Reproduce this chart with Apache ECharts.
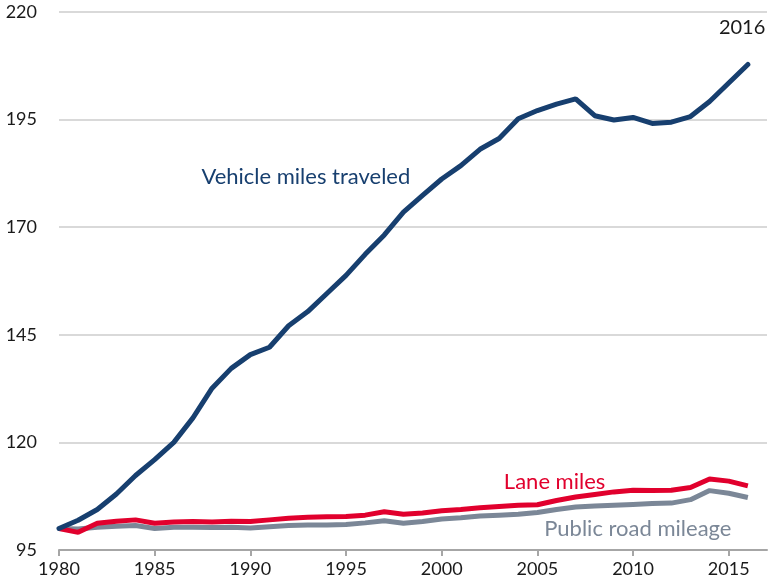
<!DOCTYPE html>
<html>
<head>
<meta charset="utf-8">
<style>
  html, body { margin: 0; padding: 0; background: #ffffff; }
  #chart { width: 770px; height: 588px; }
</style>
<script src="https://cdn.jsdelivr.net/npm/echarts@6/dist/echarts.min.js"></script>
</head>
<body>
<div id="chart"></div>
<script>
// Index values, 1980 = 100
const years = [
  1980, 1981, 1982, 1983, 1984, 1985, 1986, 1987, 1988, 1989,
  1990, 1991, 1992, 1993, 1994, 1995, 1996, 1997, 1998, 1999,
  2000, 2001, 2002, 2003, 2004, 2005, 2006, 2007, 2008, 2009,
  2010, 2011, 2012, 2013, 2014, 2015, 2016
];

const vehicleMiles = [
  100.0, 101.9, 104.4, 108.0, 112.3, 116.0, 120.0, 125.7, 132.6, 137.2,
  140.4, 142.1, 147.1, 150.4, 154.6, 158.8, 163.7, 168.2, 173.5, 177.4,
  181.2, 184.3, 188.1, 190.6, 195.2, 197.1, 198.6, 199.8, 195.9, 194.9,
  195.5, 194.1, 194.4, 195.7, 199.2, 203.5, 207.8
];

const laneMiles = [
  100.0, 99.1, 101.2, 101.7, 102.0, 101.2, 101.5, 101.6, 101.5, 101.7,
  101.6, 102.0, 102.4, 102.6, 102.7, 102.8, 103.1, 103.9, 103.3, 103.6,
  104.1, 104.4, 104.8, 105.1, 105.4, 105.5, 106.5, 107.3, 107.9, 108.5,
  108.9, 108.8, 108.9, 109.5, 111.5, 111.0, 109.9
];

const publicRoadMileage = [
  100.0, 99.9, 100.3, 100.5, 100.7, 100.0, 100.3, 100.3, 100.2, 100.3,
  100.1, 100.4, 100.7, 100.8, 100.8, 100.9, 101.3, 101.8, 101.2, 101.6,
  102.2, 102.5, 102.9, 103.1, 103.3, 103.7, 104.4, 105.0, 105.2, 105.4,
  105.6, 105.8, 105.9, 106.7, 108.8, 108.2, 107.2
];

const xTicks = [1980, 1985, 1990, 1995, 2000, 2005, 2010, 2015];
const yTicks = [95, 120, 145, 170, 195, 220];

const NAVY = '#173f6f';
const RED = '#e1002d';
const GRAY = '#7b8797';
const FONT = 'Lato';

function pairs(values) {
  return years.map((y, i) => [y, values[i]]);
}

function textMark(text, coord, color, size) {
  return {
    coord: coord,
    symbol: 'circle',
    symbolSize: 0,
    label: {
      show: true,
      position: 'inside',
      formatter: text,
      color: color,
      fontSize: size,
      fontFamily: FONT
    }
  };
}

const chart = echarts.init(document.getElementById('chart'), null, { renderer: 'canvas' });

chart.setOption({
  animation: false,
  backgroundColor: '#ffffff',
  grid: { left: 59, right: 3, top: 12, bottom: 38, containLabel: false },
  xAxis: {
    type: 'value',
    min: 1980,
    max: 2017,
    interval: 5,
    splitLine: { show: false },
    axisLine: { show: true, lineStyle: { color: '#a6a6a6', width: 2 } },
    axisTick: {
      show: true,
      length: 6,
      customValues: xTicks,
      lineStyle: { color: '#a6a6a6', width: 2 }
    },
    axisLabel: {
      customValues: xTicks,
      formatter: v => String(v),
      color: '#1a1a1a',
      fontSize: 18,
      fontFamily: FONT,
      margin: 10
    }
  },
  yAxis: {
    type: 'value',
    min: 95,
    max: 220,
    interval: 25,
    axisLine: { show: false },
    axisTick: { show: false },
    splitLine: { show: true, lineStyle: { color: '#d9d9d9', width: 2 } },
    axisLabel: {
      customValues: yTicks,
      color: '#1a1a1a',
      fontSize: 18,
      fontFamily: FONT,
      margin: 22
    }
  },
  series: [
    {
      name: 'Public road mileage',
      type: 'line',
      data: pairs(publicRoadMileage),
      showSymbol: false,
      lineStyle: { color: GRAY, width: 5 },
      itemStyle: { color: GRAY },
      z: 2,
      markPoint: {
        silent: true,
        data: [textMark('Public road mileage', [2010.25, 99.9], GRAY, 22)]
      }
    },
    {
      name: 'Lane miles',
      type: 'line',
      data: pairs(laneMiles),
      showSymbol: false,
      lineStyle: { color: RED, width: 5 },
      itemStyle: { color: RED },
      z: 3,
      markPoint: {
        silent: true,
        data: [textMark('Lane miles', [2005.9, 110.8], RED, 22)]
      }
    },
    {
      name: 'Vehicle miles traveled',
      type: 'line',
      data: pairs(vehicleMiles),
      showSymbol: false,
      lineStyle: { color: NAVY, width: 5, cap: 'round' },
      itemStyle: { color: NAVY },
      z: 4,
      markPoint: {
        silent: true,
        data: [
          textMark('Vehicle miles traveled', [1992.9, 181.7], NAVY, 22),
          textMark('2016', [2015.7, 216.5], '#1a1a1a', 20)
        ]
      }
    }
  ]
});
</script>
</body>
</html>
